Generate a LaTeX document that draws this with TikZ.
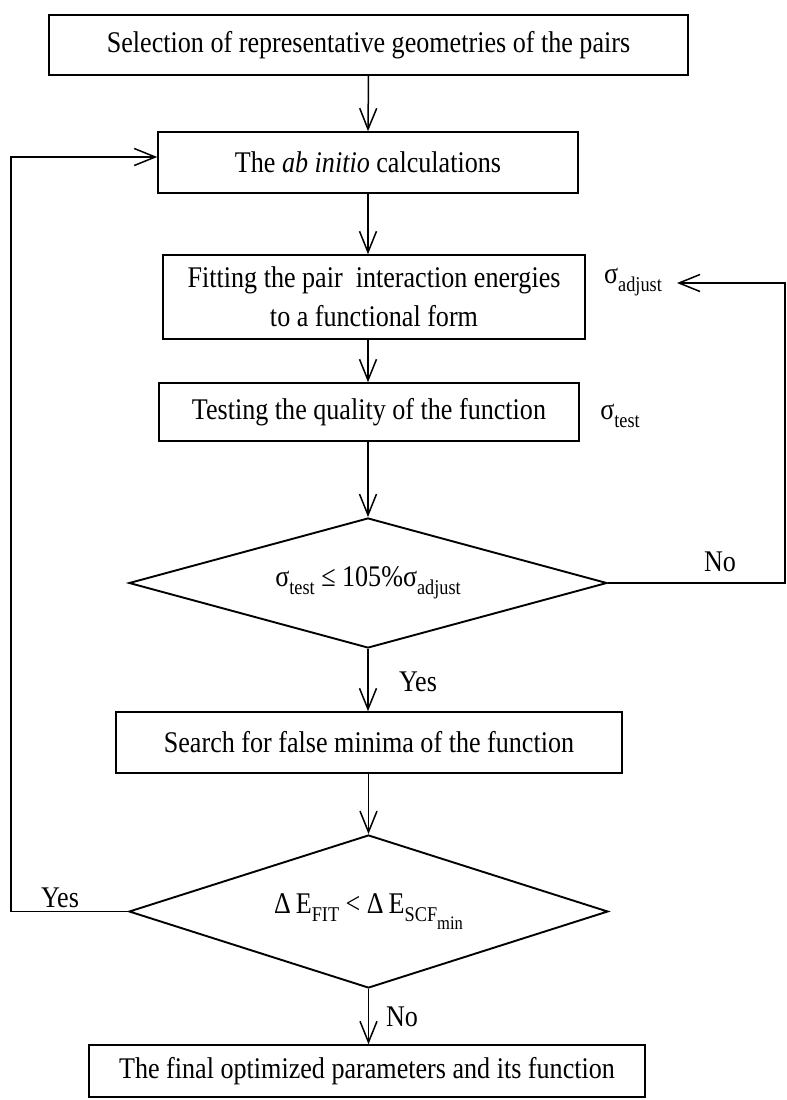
\documentclass[tikz,border=0pt]{standalone}
\usepackage{fontspec}
\setmainfont{Liberation Serif}[FakeStretch=0.87]
\usetikzlibrary{shapes.geometric,arrows.meta}
\newcommand\lsub[1]{\raisebox{-0.28em}{\fontsize{21bp}{21bp}\selectfont #1}}
\newcommand\llsub[1]{\raisebox{-0.35em}{\fontsize{19bp}{19bp}\selectfont #1}}
\tikzset{
  stepbox/.style={draw, line width=1.5bp, rectangle, inner sep=0pt, align=center},
  decision/.style={draw, line width=1.9bp, diamond, inner sep=0pt},
  flow/.style={line width=1.5bp, -{Straight Barb[length=21bp,width=17bp,line width=1.5bp]}},
  lbl/.style={inner sep=0pt}
}
\begin{document}
\begin{tikzpicture}[x=1bp,y=-1bp,font=\fontsize{30bp}{39bp}\selectfont]
\useasboundingbox (0,0) rectangle (787,1100);
\node[stepbox, minimum width=639bp, minimum height=60bp] (b1) at (368.5,45) {Selection of representative geometries of the pairs};
\node[stepbox, minimum width=420bp, minimum height=61bp] (b2) at (368,162.5) {The \textit{ab initio} calculations};
\node[stepbox, minimum width=422bp, minimum height=84bp] (b3) at (374,297) {Fitting the pair\ \ interaction energies\\to a functional form};
\node[stepbox, minimum width=420bp, minimum height=58bp] (b4) at (369,412) {Testing the quality of the function};
\node[decision, minimum width=478bp, minimum height=130bp, shape aspect=3.68] (d1) at (368,583) {σ\lsub{test} ≤ 105\%σ\lsub{adjust}};
\node[stepbox, minimum width=506bp, minimum height=61bp] (b5) at (369,742.5) {Search for false minima of the function};
\node[decision, minimum width=479bp, minimum height=153bp, shape aspect=3.13] (d2) at (368.5,911.5) {Δ\,E\lsub{FIT} < Δ\,E\lsub{SCF\llsub{min}}};
\node[stepbox, minimum width=556bp, minimum height=52bp] (b6) at (367,1071) {The final optimized parameters and its function};

\node[lbl] (sadj) at (633,282) {σ\lsub{adjust}};
\node[lbl] (stest) at (620,416) {σ\lsub{test}};
\node[lbl] (no1) at (720,562) {No};
\node[lbl] (yes1) at (418,682) {Yes};
\node[lbl] (yes2) at (60,898) {Yes};
\node[lbl] (no2) at (402,1017) {No};

\coordinate (rb) at (785,583);
\coordinate (rt) at (785,283);
\coordinate (tip) at (677,283);
\coordinate (lb) at (11,911.5);
\coordinate (lt) at (11,157);

\draw[flow] (b1.south) -- (b2.north);
\draw[flow] (b2.south) -- (b2.south |- b3.north);
\draw[flow] (b2.south |- b3.south) -- (b2.south |- b4.north);
\draw[flow] (d1.north |- b4.south) -- (d1.north);
\draw[flow] (d1.south) -- (d1.south |- b5.north);
\draw[flow] (d2.north |- b5.south) -- (d2.north);
\draw[flow] (d2.south) -- (d2.south |- b6.north);
\draw[flow] (d2.west) -- (lb) -- (lt) -- (b2.west |- lt);
\draw[flow] (d1.east) -- (rb) -- (rt) -- (tip);
\end{tikzpicture}
\end{document}
